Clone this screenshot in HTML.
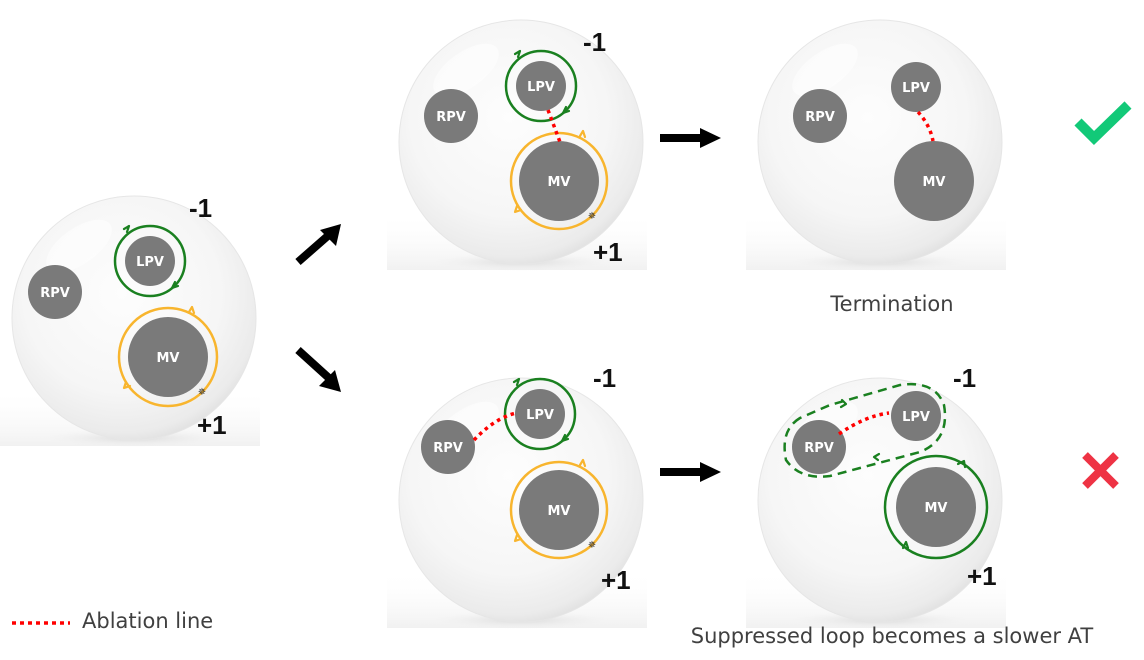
<!DOCTYPE html>
<html><head><meta charset="utf-8"><style>
html,body{margin:0;padding:0;background:#fff;}
svg{display:block;font-family:"Liberation Sans",sans-serif;}
.t{font-family:"DejaVu Sans","Liberation Sans",sans-serif;}
</style></head><body>
<svg width="1144" height="660" viewBox="0 0 1144 660" xmlns="http://www.w3.org/2000/svg">
<defs>
<radialGradient id="sph" cx="0.45" cy="0.4" r="0.62">
<stop offset="0" stop-color="#fdfdfd"/>
<stop offset="0.65" stop-color="#f6f6f6"/>
<stop offset="0.92" stop-color="#ebebeb"/>
<stop offset="1" stop-color="#e0e0e0"/>
</radialGradient>
<radialGradient id="shd" cx="0.5" cy="0.5" r="0.5">
<stop offset="0" stop-color="#c8c8c8" stop-opacity="0.6"/>
<stop offset="1" stop-color="#eeeeee" stop-opacity="0"/>
</radialGradient>
<linearGradient id="floor" x1="0" y1="0" x2="0" y2="1">
<stop offset="0" stop-color="#fff" stop-opacity="0"/>
<stop offset="1" stop-color="#f1f1f1"/>
</linearGradient>
<g id="sphere">
<rect x="-134" y="70" width="260" height="58" fill="url(#floor)"/>
<ellipse cx="0" cy="120" rx="90" ry="9" fill="url(#shd)"/>
<circle cx="0" cy="0" r="122" fill="url(#sph)" stroke="#e6e6e6" stroke-width="1"/>
<ellipse cx="-55" cy="-72" rx="38" ry="18" fill="#fff" opacity="0.5" transform="rotate(-35 -55 -72)"/>
</g>
</defs>

<use href="#sphere" x="134" y="318"/>
<use href="#sphere" x="521" y="142"/>
<use href="#sphere" x="880" y="142"/>
<use href="#sphere" x="521" y="500"/>
<use href="#sphere" x="880" y="500"/>

<g font-weight="bold" font-size="13" fill="#fff" text-anchor="middle" class="t">
<circle cx="55" cy="292" r="27" fill="#7a7a7a"/>
<text x="55" y="297">RPV</text>
<circle cx="150" cy="261" r="35" fill="none" stroke="#1a8020" stroke-width="2.5"/>
<circle cx="150" cy="261" r="25" fill="#7a7a7a"/>
<text x="150" y="266">LPV</text>
<circle cx="168" cy="357" r="49" fill="none" stroke="#f8b52e" stroke-width="2.5"/>
<circle cx="168" cy="357" r="40" fill="#7a7a7a"/>
<text x="168" y="362">MV</text>

<circle cx="451" cy="116" r="27" fill="#7a7a7a"/>
<text x="451" y="121">RPV</text>
<circle cx="541" cy="86" r="35" fill="none" stroke="#1a8020" stroke-width="2.5"/>
<circle cx="541" cy="86" r="25" fill="#7a7a7a"/>
<text x="541" y="91">LPV</text>
<circle cx="559" cy="181" r="48" fill="none" stroke="#f8b52e" stroke-width="2.5"/>
<circle cx="559" cy="181" r="40" fill="#7a7a7a"/>
<text x="559" y="186">MV</text>
<path d="M548 110 L560 142" stroke="#f00" stroke-width="3.5" stroke-dasharray="3.5 4" fill="none"/>

<circle cx="820" cy="116" r="27" fill="#7a7a7a"/>
<text x="820" y="121">RPV</text>
<circle cx="916" cy="87" r="25" fill="#7a7a7a"/>
<text x="916" y="92">LPV</text>
<circle cx="934" cy="181" r="40" fill="#7a7a7a"/>
<text x="934" y="186">MV</text>
<path d="M918 112 Q930 125 933 141" stroke="#f00" stroke-width="3.5" stroke-dasharray="3.5 4" fill="none"/>

<circle cx="448" cy="447" r="27" fill="#7a7a7a"/>
<text x="448" y="452">RPV</text>
<circle cx="540" cy="414" r="35" fill="none" stroke="#1a8020" stroke-width="2.5"/>
<circle cx="540" cy="414" r="25" fill="#7a7a7a"/>
<text x="540" y="419">LPV</text>
<circle cx="559" cy="510" r="48" fill="none" stroke="#f8b52e" stroke-width="2.5"/>
<circle cx="559" cy="510" r="40" fill="#7a7a7a"/>
<text x="559" y="515">MV</text>
<path d="M474 440 Q495 418 516 413" stroke="#f00" stroke-width="3.5" stroke-dasharray="3.5 4" fill="none"/>

<path d="M800 418 Q780 430 786 460 Q800 480 830 476 L920 452 Q950 440 944 405 Q935 380 900 385 L830 405 Z" fill="none" stroke="#1a8020" stroke-width="2.5" stroke-dasharray="9 6"/>
<circle cx="819" cy="447" r="27" fill="#7a7a7a"/>
<text x="819" y="452">RPV</text>
<circle cx="916" cy="416" r="25" fill="#7a7a7a"/>
<text x="916" y="421">LPV</text>
<circle cx="936" cy="507" r="51" fill="none" stroke="#1a8020" stroke-width="2.5"/>
<circle cx="936" cy="507" r="40" fill="#7a7a7a"/>
<text x="936" y="512">MV</text>
<path d="M839 434 Q865 416 889 413" stroke="#f00" stroke-width="3.5" stroke-dasharray="3.5 4" fill="none"/>
</g>

<g fill="none" stroke-width="2.2" stroke-linecap="round" stroke-linejoin="round">
<g stroke="#1a8020">
<path d="M124 229 l5 -3 l-2 6"/><path d="M172 288 l3 -6 M172 288 l6 -2"/>
<path d="M515 54 l5 -3 l-2 6"/><path d="M563 113 l3 -6 M563 113 l6 -2"/>
<path d="M514 382 l5 -3 l-2 6"/><path d="M562 441 l3 -6 M562 441 l6 -2"/>
<path d="M842 400 l4 4 l-5 3"/><path d="M878 460 l-4 -3 l5 -3"/>
<path d="M958 464 l6 -3 l1 6"/><path d="M903 548 l3 -6 l2 6"/>
</g>
<g stroke="#f8b52e">
<path d="M189 312 l3 -5 l2 6"/><path d="M126 382 l-2 6 l6 -2"/>
<path d="M580 136 l3 -5 l2 6"/><path d="M517 206 l-2 6 l6 -2"/>
<path d="M580 465 l3 -5 l2 6"/><path d="M517 535 l-2 6 l6 -2"/>
</g>
</g>
<g fill="#333" font-size="10" text-anchor="middle">
<text x="202" y="395">✵</text><text x="592" y="219">✵</text><text x="592" y="548">✵</text>
</g>

<g font-weight="bold" font-size="26" fill="#111">
<text x="189" y="217">-1</text><text x="197" y="434">+1</text>
<text x="583" y="51">-1</text><text x="593" y="261">+1</text>
<text x="593" y="387">-1</text><text x="601" y="589">+1</text>
<text x="953" y="387">-1</text><text x="967" y="585">+1</text>
</g>

<g fill="#000">
<path d="M298 262 L330 234" stroke="#000" stroke-width="8"/>
<polygon points="341,224 336,246 320,230"/>
<path d="M298 350 L330 379" stroke="#000" stroke-width="8"/>
<polygon points="341,392 319,386 335,370"/>
<path d="M660 138 L702 138" stroke="#000" stroke-width="8"/>
<polygon points="721,138 700,128 700,148"/>
<path d="M660 472 L702 472" stroke="#000" stroke-width="8"/>
<polygon points="721,472 700,462 700,482"/>
</g>

<polyline points="1078,122 1094,138 1128,105" fill="none" stroke="#12c978" stroke-width="10"/>
<path d="M1085 455 L1116 486 M1116 455 L1085 486" stroke="#ee3344" stroke-width="8"/>

<g fill="#404040" font-size="21" class="t">
<text x="892" y="311" text-anchor="middle">Termination</text>
<text x="892" y="643" text-anchor="middle">Suppressed loop becomes a slower AT</text>
<text x="82" y="628">Ablation line</text>
</g>
<path d="M12 623 L70 623" stroke="#f00" stroke-width="3.5" stroke-dasharray="4 4"/>
</svg>
</body></html>
